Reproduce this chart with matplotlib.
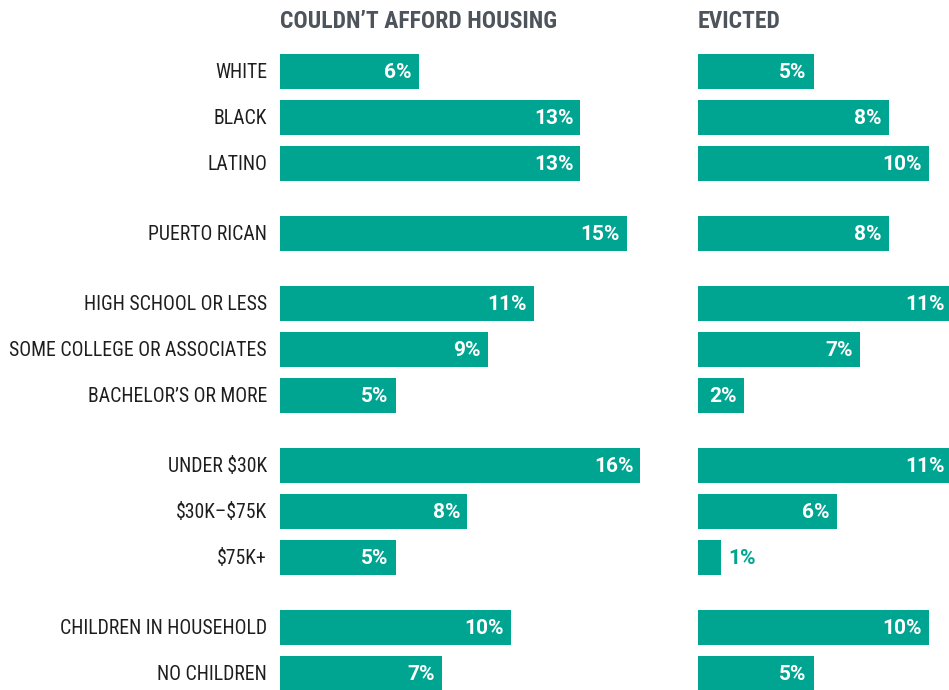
import matplotlib
matplotlib.use("Agg")
import matplotlib.pyplot as plt
from matplotlib import font_manager

categories = ["WHITE", "BLACK", "LATINO", "PUERTO RICAN",
              "HIGH SCHOOL OR LESS", "SOME COLLEGE OR ASSOCIATES", "BACHELOR\u2019S OR MORE",
              "UNDER $30K", "$30K\u2013$75K", "$75K+",
              "CHILDREN IN HOUSEHOLD", "NO CHILDREN"]
groups = [0, 0, 0, 1, 2, 2, 2, 3, 3, 3, 4, 4]
afford = [6, 13, 13, 15, 11, 9, 5, 15.6, 8.1, 5, 10, 7]
evicted = [5, 8.25, 10, 8.25, 11, 7, 2, 11, 6, 1, 10, 5]
titles = ["COULDN\u2019T AFFORD HOUSING", "EVICTED"]

TEAL = "#00a591"
TITLE_C = "#4d545c"
LABEL_C = "#1e1e1e"

names = sorted({f.name for f in font_manager.fontManager.ttflist})
COND = "Roboto Condensed" if "Roboto Condensed" in names else "DejaVu Sans"
WIDE = "Roboto" if "Roboto" in names else "DejaVu Sans"
plt.rcParams["font.family"] = [COND, "DejaVu Sans"]

W, H = 949, 690
fig = plt.figure(figsize=(W / 100, H / 100), dpi=100)

px_per_unit = 23.1
step, gap, first, bar_h = 46, 24, 71.5, 35
ypos = [first + i * step + g * gap for i, g in enumerate(groups)]

panels = [(280, afford), (698, evicted)]
axes = []
for (x0, vals), title in zip(panels, titles):
    width_px = 420
    ax = fig.add_axes([x0 / W, 0, width_px / W, 1])
    ax.set_xlim(0, width_px / px_per_unit)
    ax.set_ylim(H, 0)
    ax.axis("off")
    ax.barh(ypos, vals, height=bar_h, color=TEAL)
    for y, v in zip(ypos, vals):
        lab = f"{int(v + 0.5)}%"
        if v >= 2:
            ax.text(v - 7 / px_per_unit, y + 1, lab, ha="right", va="center",
                    color="white", fontsize=15, fontweight="bold",
                    family=[WIDE, "DejaVu Sans"])
        else:
            ax.text(v + 7 / px_per_unit, y + 1, lab, ha="left", va="center",
                    color=TEAL, fontsize=15, fontweight="bold",
                    family=[WIDE, "DejaVu Sans"])
    ax.text(0, 21, title, ha="left", va="center", color=TITLE_C,
            fontsize=17, fontweight="bold")
    axes.append(ax)

for y, c in zip(ypos, categories):
    axes[0].text(-13 / px_per_unit, y + 1, c, ha="right", va="center",
                 color=LABEL_C, fontsize=14.2, parse_math=False)

fig.savefig("out.png", dpi=100)
